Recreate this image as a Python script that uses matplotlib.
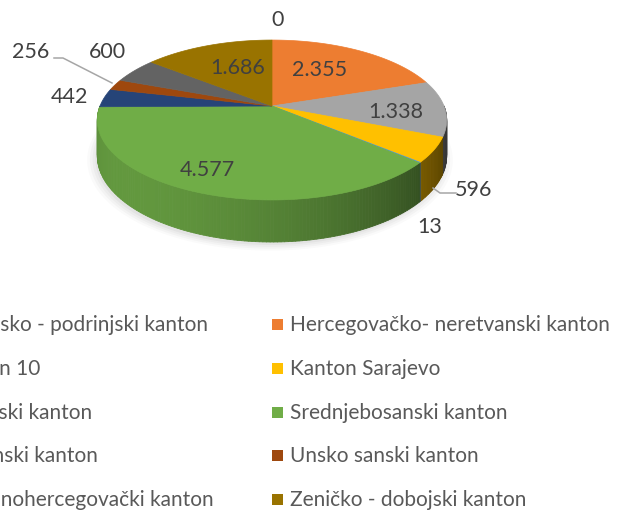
import numpy as np
import matplotlib
matplotlib.use("Agg")
import matplotlib.pyplot as plt
from matplotlib.collections import PolyCollection
from matplotlib.patches import Polygon, Rectangle
from matplotlib.colors import to_rgb

# ---------------- data ----------------
cantons = [
    "Bosansko - podrinjski kanton",
    "Hercegovačko- neretvanski kanton",
    "Kanton 10",
    "Kanton Sarajevo",
    "Posavski kanton",
    "Srednjebosanski kanton",
    "Tuzlanski kanton",
    "Unsko sanski kanton",
    "Zapadnohercegovački kanton",
    "Zeničko - dobojski kanton",
]
values = [0, 2355, 1338, 596, 13, 4577, 442, 256, 600, 1686]

# ---------------- style ----------------
colors = ["#4472C4", "#ED7D31", "#A5A5A5", "#FFC000", "#5B9BD5",
          "#70AD47", "#264478", "#9E480E", "#636363", "#997300"]
# label centres (pixel positions, style only)
label_pos = [(278, 20), (320, 70), (396, 112), (473, 190), (430, 227),
             (207, 170), (69, 97), (31, 52), (107, 52), (238, 68)]
FONT = "Lato"
LABEL_COLOR = "#404040"
LEGEND_COLOR = "#595959"

W, H = 622, 511
fig = plt.figure(figsize=(W / 100, H / 100), dpi=100)
ax = fig.add_axes([0, 0, 1, 1])
ax.set_xlim(0, W)
ax.set_ylim(H, 0)
ax.axis("off")

# projection parameters (pixels)
CX, CY = 272.0, 106.0
A, B, D, K = 77.5, 172.0, 34.7, 0.175


def proj(theta, r, h):
    t = np.radians(theta)
    x = r * np.sin(t)
    z = r * np.cos(t)
    s = 1.0 / (1.0 + K * z)
    return CX + x * B * s, CY + (-z * A + h * D) * s


vals = np.asarray(values, dtype=float)
ends = np.cumsum(vals) / vals.sum() * 360.0
starts = np.concatenate([[0.0], ends[:-1]])

# ---- soft shadow ----
tt = np.linspace(0, 360, 200)
for k, (dr, al) in enumerate([(1.045, 0.04), (1.03, 0.05), (1.015, 0.06), (1.0, 0.08)]):
    px, py = proj(tt, dr, 1.0)
    ax.add_patch(Polygon(np.column_stack([px - 2, py + 3]), closed=True,
                         facecolor="#808080", edgecolor="none", alpha=al, zorder=1))


def shade(theta):
    t = np.radians(theta)
    nx, nz = np.sin(t), np.cos(t)
    dot = -0.75 * nx - 0.66 * nz
    return float(np.clip(0.52 + 0.36 * dot, 0.33, 0.92))


# ---- side strips ----
strips, fcols, depth = [], [], []
for i in range(len(vals)):
    lo, hi = max(starts[i], 90.0), min(ends[i], 270.0)
    if hi <= lo:
        continue
    n = max(2, int((hi - lo) / 1.0) + 2)
    ang = np.linspace(lo, hi, n)
    base = np.array(to_rgb(colors[i]))
    for a0, a1 in zip(ang[:-1], ang[1:]):
        x0t, y0t = proj(a0, 1, 0)
        x1t, y1t = proj(a1, 1, 0)
        x0b, y0b = proj(a0, 1, 1)
        x1b, y1b = proj(a1, 1, 1)
        strips.append([(x0t, y0t), (x1t, y1t), (x1b, y1b), (x0b, y0b)])
        c = base * shade(0.5 * (a0 + a1))
        fcols.append(tuple(np.clip(c, 0, 1)))
        depth.append(np.cos(np.radians(0.5 * (a0 + a1))))
order = np.argsort(-np.asarray(depth))
pc = PolyCollection([strips[j] for j in order],
                    facecolors=[fcols[j] for j in order],
                    edgecolors=[fcols[j] for j in order],
                    linewidths=0.6, zorder=2)
ax.add_collection(pc)

# ---- top face ----
for i in range(len(vals)):
    if vals[i] <= 0:
        continue
    n = max(3, int((ends[i] - starts[i]) / 1.0) + 2)
    ang = np.linspace(starts[i], ends[i], n)
    px, py = proj(ang, 1, 0)
    pts = np.vstack([[CX, CY], np.column_stack([px, py])])
    ax.add_patch(Polygon(pts, closed=True, facecolor=colors[i],
                         edgecolor=colors[i], linewidth=0.5, zorder=3))

# ---- font sizing helpers ----
renderer = fig.canvas.get_renderer()


def text_width(s, size):
    t = ax.text(0, 0, s, fontsize=size, family=FONT)
    w = t.get_window_extent(renderer).width
    t.remove()
    return w


lab_size = 10 * 55.0 / text_width("4.577", 10)
leg_size = 10 * 320.0 / text_width(cantons[1], 10)


def fmt(v):
    return f"{v:,}".replace(",", ".")


for i, v in enumerate(values):
    x, y = label_pos[i]
    ax.text(x, y, fmt(v), ha="center", va="center", fontsize=lab_size,
            family=FONT, color=LABEL_COLOR, zorder=5)

# leader lines
ax.plot([54, 63, 112], [58, 58, 83], color="#A6A6A6", lw=1.1, zorder=4)
ax.plot([433, 440, 456], [188, 193, 193], color="#A6A6A6", lw=1.1, zorder=4)

# ---- legend (row-major, two columns) ----
row_y = [325, 369, 413, 456, 500]
w0 = text_width(cantons[0], leg_size)
text_x = [208 - w0, 290]
msize = 11
for i, name in enumerate(cantons):
    r, c = divmod(i, 2)
    y = row_y[r]
    tx = text_x[c]
    ax.add_patch(Rectangle((tx - 18, y - msize / 2), msize, msize,
                           facecolor=colors[i], edgecolor="none", zorder=5))
    ax.text(tx, y, name, ha="left", va="center", fontsize=leg_size,
            family=FONT, color=LEGEND_COLOR, zorder=5)

fig.savefig("out.png", dpi=100)
